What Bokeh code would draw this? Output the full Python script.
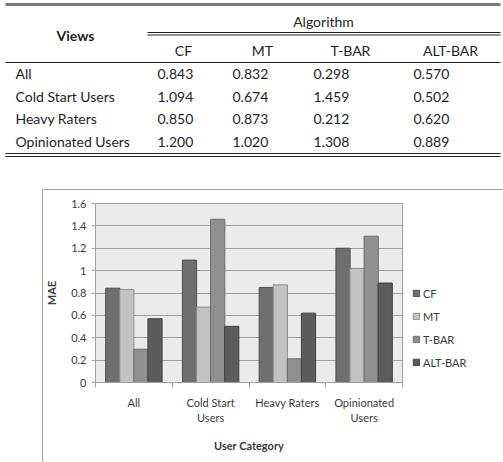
from bokeh.plotting import figure
from bokeh.models import (Range1d, ColumnDataSource, FixedTicker,
                          LinearAxis, Legend, LegendItem)
from bokeh.embed import file_html
from bokeh.resources import INLINE
from bokeh.transform import dodge
from bokeh.core.properties import value

# ---------------- data ----------------
views = ["All", "Cold Start Users", "Heavy Raters", "Opinionated Users"]
category_labels = ["All", "Cold Start\nUsers", "Heavy Raters", "Opinionated\nUsers"]
algorithms = ["CF", "MT", "T-BAR", "ALT-BAR"]
cf = [0.843, 1.094, 0.850, 1.200]
mt = [0.832, 0.674, 0.873, 1.020]
tbar = [0.298, 1.459, 0.212, 1.308]
altbar = [0.570, 0.502, 0.620, 0.889]
series = [cf, mt, tbar, altbar]
y_ticks = [0, 0.2, 0.4, 0.6, 0.8, 1.0, 1.2, 1.4, 1.6]
y_tick_labels = ["0", "0.2", "0.4", "0.6", "0.8", "1", "1.2", "1.4", "1.6"]

FONT = "Lato"
TXT = "#1e1e1e"

# ---------------- table ----------------
TH = 189
tf = figure(width=503, height=TH, x_range=Range1d(0, 503), y_range=Range1d(TH, 0),
            toolbar_location=None, output_backend="svg", min_border=0,
            x_axis_location=None, y_axis_location=None, outline_line_color=None)
tf.grid.visible = False

# rules
tf.segment(x0=[5], y0=[4], x1=[500], y1=[4], line_color="#7a7a7a", line_width=3)
tf.segment(x0=[147, 147], y0=[32, 34.5], x1=[500, 500], y1=[32, 34.5], line_color="#222222", line_width=1)
tf.segment(x0=[5], y0=[62], x1=[500], y1=[62], line_color="#222222", line_width=1)
tf.segment(x0=[5, 5], y0=[153, 156], x1=[500, 500], y1=[153, 156], line_color="#222222", line_width=1)

fs = "14px"
tf.text(x=[323], y=[21], text=["Algorithm"], text_align="center", text_baseline="middle",
        text_font=value(FONT), text_font_size=fs, text_color=TXT)
tf.text(x=[75], y=[35], text=["Views"], text_align="center", text_baseline="middle",
        text_font=value(FONT), text_font_size=fs, text_font_style="bold", text_color=TXT)
header_x = [183, 262, 350, 450]
tf.text(x=header_x, y=[50] * 4, text=algorithms, text_align="center", text_baseline="middle",
        text_font=value(FONT), text_font_size=fs, text_color=TXT)
row_y = [73, 96, 118, 141]
tf.text(x=[15] * 4, y=row_y, text=views, text_align="left", text_baseline="middle",
        text_font=value(FONT), text_font_size=fs, text_color=TXT)
col_x = [157, 232, 313, 413]
for cx, s in zip(col_x, series):
    tf.text(x=[cx] * 4, y=row_y, text=[f"{v:.3f}" for v in s], text_align="left",
            text_baseline="middle", text_font=value(FONT), text_font_size=fs, text_color=TXT)

# ---------------- chart ----------------
colors = ["#6f6f6f", "#c2c2c2", "#909090", "#5c5c5c"]
lines = ["#4e4e4e", "#8c8c8c", "#6c6c6c", "#404040"]
offsets = [-0.275, -0.092, 0.092, 0.275]
ncat = len(category_labels)
cat_pos = [i + 0.5 for i in range(ncat)]
src = ColumnDataSource(dict(pos=cat_pos, CF=cf, MT=mt, TBAR=tbar, ALTBAR=altbar))
keys = ["CF", "MT", "TBAR", "ALTBAR"]

FW, FH = 307, 179
p = figure(width=None, height=None, frame_width=FW, frame_height=FH,
           x_range=Range1d(0, ncat),
           y_range=Range1d(0, 1.6), toolbar_location=None, output_backend="svg",
           x_axis_location=None, min_border_left=48, min_border_right=87,
           min_border_top=14, min_border_bottom=80,
           background_fill_color="#ebebeb", border_fill_alpha=0,
           outline_line_color="#a0a0a0",
           styles={"margin-left": "42px",
                   "box-shadow": "inset 1px 1px 0 #a6a6a6, inset -1px 0 0 #a6a6a6"})
p.xgrid.visible = False
p.ygrid.grid_line_color = "#a0a0a0"
p.ygrid.ticker = FixedTicker(ticks=y_ticks)

items = []
for k, name, off, c, lc in zip(keys, algorithms, offsets, colors, lines):
    r = p.vbar(x=dodge("pos", off), top=k, width=0.185, source=src,
               fill_color=c, line_color=lc, line_width=1)
    items.append(LegendItem(label=name, renderers=[r]))

ya = p.yaxis[0]
ya.ticker = FixedTicker(ticks=y_ticks)
ya.major_label_overrides = {t: l for t, l in zip(y_ticks, y_tick_labels)}
ya.major_tick_out = 4
ya.major_tick_in = 0
ya.minor_tick_line_color = None
ya.axis_line_color = "#a0a0a0"
ya.major_tick_line_color = "#a0a0a0"
ya.major_label_text_font = FONT
ya.major_label_text_font_size = "11px"
ya.major_label_text_color = "#3a3a3a"
ya.axis_label = "MAE"
ya.axis_label_text_font = FONT
ya.axis_label_text_font_size = "11px"
ya.axis_label_text_font_style = "bold"
ya.axis_label_text_color = "#3a3a3a"
ya.axis_label_standoff = 10

bounds = list(range(ncat + 1))
tick_axis = LinearAxis(ticker=FixedTicker(ticks=bounds),
                       major_label_overrides={b: "" for b in bounds},
                       major_label_text_font_size="2px", major_tick_out=5, major_tick_in=0,
                       minor_tick_line_color=None, axis_line_color="#a0a0a0",
                       major_tick_line_color="#a0a0a0", major_label_standoff=0)
p.add_layout(tick_axis, "below")
cat_axis = LinearAxis(ticker=FixedTicker(ticks=cat_pos),
                      major_label_overrides={t: l for t, l in zip(cat_pos, category_labels)},
                      axis_line_color=None, major_tick_line_color=None, minor_tick_line_color=None,
                      major_tick_out=0, major_label_standoff=8,
                      major_label_text_font=FONT, major_label_text_font_size="11px",
                      major_label_text_color="#3a3a3a",
                      axis_label="User Category", axis_label_text_font=FONT,
                      axis_label_text_font_size="11px", axis_label_text_font_style="bold",
                      axis_label_text_color="#3a3a3a", axis_label_standoff=12)
p.add_layout(cat_axis, "below")

legend = Legend(items=items, location="bottom_left", glyph_width=8, glyph_height=8,
                label_standoff=3, spacing=3, padding=10, margin=10,
                border_line_color=None, background_fill_alpha=0,
                label_text_font=FONT, label_text_font_size="11px",
                label_text_color="#3a3a3a", label_height=20)
p.add_layout(legend, "right")

open("out.html", "w").write(file_html([tf, p], INLINE))
